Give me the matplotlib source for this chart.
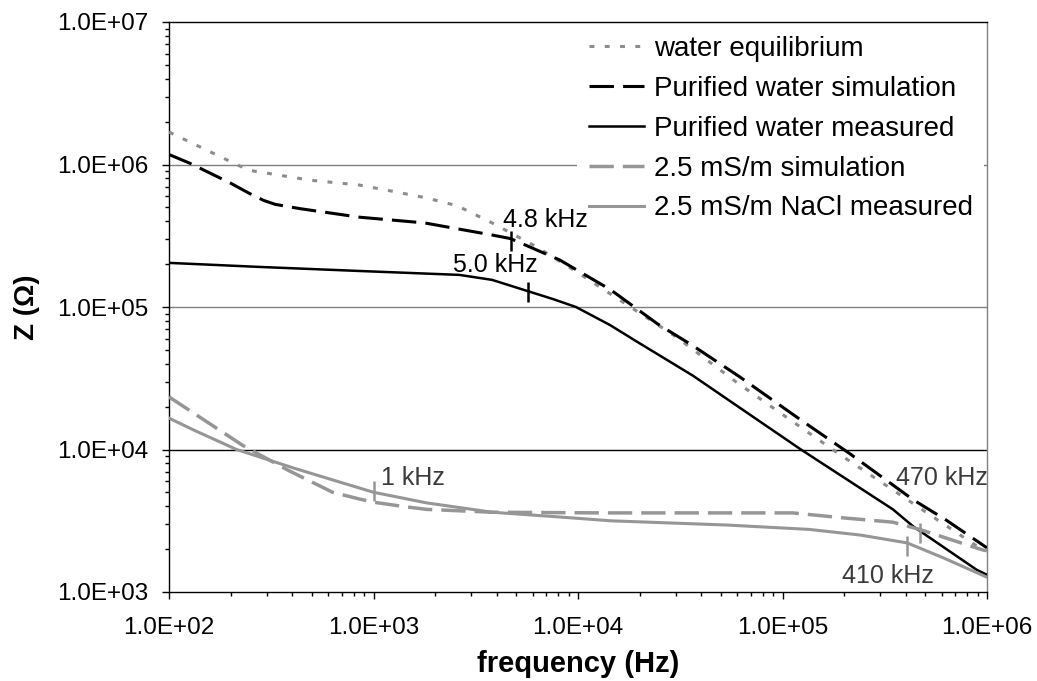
import matplotlib
matplotlib.use("Agg")
import matplotlib.pyplot as plt
from matplotlib.ticker import LogLocator, FuncFormatter, NullFormatter

plt.rcParams['font.family'] = ['Liberation Sans', 'DejaVu Sans']

# ---- data ----
water_eq_f = [100, 214, 245, 490, 851, 1259, 1820, 2570, 3802, 6310, 10000,
              30200, 60260, 186200, 346700, 609500, 955000]
water_eq_z = [1.69e6, 1.0e6, 9.12e5, 7.76e5, 7.18e5, 6.46e5, 5.82e5, 5.13e5, 3.89e5,
              2.63e5, 1.74e5, 6.17e4, 2.93e4, 9.44e3, 5.20e3, 3.02e3, 1.97e3]

pw_sim_f = [100, 126, 200, 245, 290, 331, 437, 851, 1778, 3802, 4677, 8128, 14450,
            24550, 36310, 61660, 123000, 213800, 436500, 631000, 1e6]
pw_sim_z = [1.175e6, 1.023e6, 7.4e5, 6.31e5, 5.6e5, 5.25e5, 4.90e5, 4.27e5, 3.89e5,
            3.20e5, 3.02e5, 2.14e5, 1.32e5, 7.59e4, 5.37e4, 3.24e4, 1.61e4, 9.33e3,
            4.43e3, 3.20e3, 2.04e3]

pw_meas_f = [100, 279, 851, 2630, 3802, 5702, 7500, 9772, 14320, 19500, 36310,
             123000, 346700, 436500, 891300, 1e6]
pw_meas_z = [2.04e5, 1.91e5, 1.79e5, 1.68e5, 1.55e5, 1.29e5, 1.14e5, 1.0e5, 7.48e4,
             5.69e4, 3.31e4, 1.0e4, 3.80e3, 2.88e3, 1.43e3, 1.32e3]

nacl_sim_f = [100, 229, 380, 631, 850, 1000, 1400, 1820, 3802, 12880, 112200, 199500,
              346700, 467700, 955000, 1e6]
nacl_sim_z = [2.34e4, 1.07e4, 7.18e3, 5.01e3, 4.5e3, 4.27e3, 3.98e3, 3.80e3, 3.63e3,
              3.59e3, 3.59e3, 3.31e3, 3.09e3, 2.75e3, 1.97e3, 1.95e3]

nacl_meas_f = [100, 132, 214, 407, 708, 1000, 1820, 3802, 8128, 14450, 53700, 134900,
               239900, 407400, 609500, 1e6]
nacl_meas_z = [1.66e4, 1.37e4, 1.0e4, 7.41e3, 5.82e3, 5.01e3, 4.22e3, 3.63e3, 3.36e3,
               3.16e3, 2.95e3, 2.75e3, 2.51e3, 2.21e3, 1.74e3, 1.27e3]

# marker positions (frequency, impedance) and labels
black_mark_f = [4700, 5700]
black_mark_z = [2.9e5, 1.27e5]
gray_mark_f = [1000, 470000, 406000]
gray_mark_z = [5.1e3, 2.6e3, 2.1e3]

annot_text = ["4.8 kHz", "5.0 kHz", "1 kHz", "470 kHz", "410 kHz"]
annot_f = [4300, 2450, 1090, 360000, 195000]
annot_z = [4.07e5, 1.97e5, 6.3e3, 6.3e3, 1.29e3]
annot_color = ['black', 'black', '#3a3a3a', '#3a3a3a', '#3a3a3a']

legend_labels = ["water equilibrium", "Purified water simulation",
                 "Purified water measured", "2.5 mS/m simulation",
                 "2.5 mS/m NaCl measured"]

gridlines_z = [1e6, 1e5, 1e4]
gridline_colors = ['#808080', '#808080', '#000000']

GRAY = '#969696'

fig = plt.figure(figsize=(10.37, 6.81), dpi=100)
ax = fig.add_axes([169/1037, 1 - 592/681, (987-169)/1037, (592-22)/681])

for gz, gc in zip(gridlines_z, gridline_colors):
    ax.axhline(gz, color=gc, lw=1.0, zorder=1)

l1, = ax.plot(water_eq_f, water_eq_z, color='#8c8c8c', lw=2.2, dashes=(1.6, 3.4),
              zorder=3)
l2, = ax.plot(pw_sim_f, pw_sim_z, color='black', lw=2.2, dashes=(8, 3), zorder=3)
l3, = ax.plot(pw_meas_f, pw_meas_z, color='black', lw=1.8, zorder=3)
l4, = ax.plot(nacl_sim_f, nacl_sim_z, color=GRAY, lw=2.5, dashes=(7, 2.6), zorder=3)
l5, = ax.plot(nacl_meas_f, nacl_meas_z, color=GRAY, lw=2.2, zorder=3)

ax.plot(black_mark_f, black_mark_z, ls='none', marker='|', ms=15, mew=1.8,
        color='black', zorder=4)
ax.plot(gray_mark_f, gray_mark_z, ls='none', marker='|', ms=15, mew=1.8,
        color=GRAY, zorder=4)

for t, f, z, c in zip(annot_text, annot_f, annot_z, annot_color):
    ax.text(f, z, t, fontsize=18, color=c, ha='left', va='center', zorder=7)

ax.set_xscale('log')
ax.set_yscale('log')
ax.set_xlim(1e2, 1e6)
ax.set_ylim(1e3, 1e7)

fmt = FuncFormatter(lambda v, p: f"{v:.1E}")
ax.xaxis.set_major_locator(LogLocator(base=10, numticks=10))
ax.yaxis.set_major_locator(LogLocator(base=10, numticks=10))
ax.xaxis.set_minor_locator(LogLocator(base=10, subs=range(2, 10), numticks=100))
ax.yaxis.set_minor_locator(LogLocator(base=10, subs=range(2, 10), numticks=100))
ax.xaxis.set_major_formatter(fmt)
ax.yaxis.set_major_formatter(fmt)
ax.xaxis.set_minor_formatter(NullFormatter())
ax.yaxis.set_minor_formatter(NullFormatter())

ax.tick_params(axis='both', which='major', direction='out', length=5, width=1,
               labelsize=17.5, color='black')
ax.tick_params(axis='both', which='minor', direction='out', length=3, width=1,
               color='black')
ax.tick_params(axis='y', which='major', pad=10)
ax.tick_params(axis='x', which='major', pad=13)

for s in ['left', 'bottom', 'top']:
    ax.spines[s].set_color('black')
    ax.spines[s].set_linewidth(1.0)
ax.spines['right'].set_color('#808080')
ax.spines['right'].set_linewidth(1.0)

ax.set_xlabel('frequency (Hz)', fontsize=21, fontweight='bold', labelpad=8)
ax.set_ylabel('Z (Ω)', fontsize=20, fontweight='bold', labelpad=12)

leg = ax.legend([l1, l2, l3, l4, l5], legend_labels, loc='upper right',
                bbox_to_anchor=(1.0, 1.0), borderaxespad=0.1, fontsize=20,
                frameon=True, facecolor='white', edgecolor='none', framealpha=1.0,
                fancybox=False, handlelength=2.0, handletextpad=0.36,
                labelspacing=0.5, borderpad=0.4)
leg.set_zorder(5)

fig.savefig('out.png', dpi=100)
